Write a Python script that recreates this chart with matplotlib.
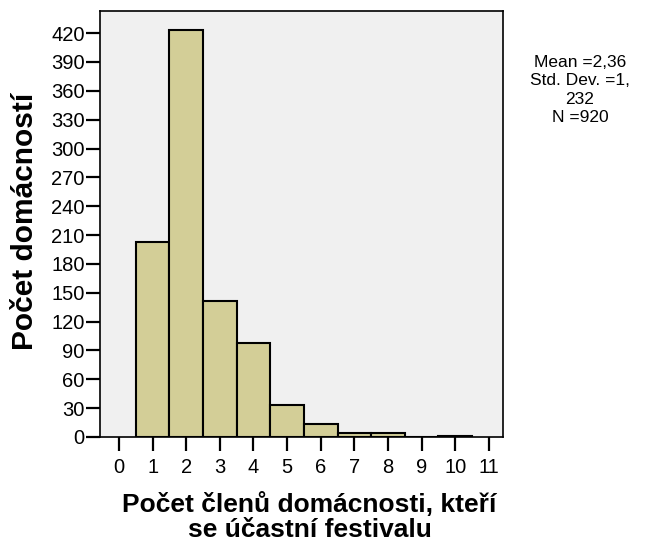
import matplotlib
matplotlib.use("Agg")
import matplotlib.pyplot as plt

categories = [1, 2, 3, 4, 5, 6, 7, 8, 9, 10]
counts = [203, 423, 141, 98, 33, 13, 4, 4, 0, 1]
xticks = list(range(0, 12))
yticks = list(range(0, 421, 30))

plt.rcParams['font.family'] = ['Liberation Sans', 'DejaVu Sans']
fig = plt.figure(figsize=(6.55, 5.46), dpi=100)
ax = fig.add_axes([100/655, 1 - 437/546, 403/655, 426/546])
ax.set_facecolor('#F0F0F0')
ax.bar(categories, counts, width=1.0, color='#D3CE97', edgecolor='black', linewidth=1.5)
ax.set_xlim(-0.565, 11.42)
ax.set_ylim(0, 443)
ax.set_xticks(xticks)
ax.set_yticks(yticks)
ax.tick_params(axis='x', direction='out', length=10, width=1.6, labelsize=14.5, pad=5)
ax.tick_params(axis='y', direction='out', length=10, width=1.6, labelsize=14.5, pad=1)
for s in ax.spines.values():
    s.set_linewidth(1.2)
ax.set_xlabel('Počet členů domácnosti, kteří\nse účastní festivalu', fontsize=19, fontweight='bold', linespacing=1.05)
ax.xaxis.set_label_coords(0.52, -0.13)
ax.set_ylabel('Počet domácností', fontsize=21.5, fontweight='bold')
ax.yaxis.set_label_coords(-0.152, 0.507)
fig.text(580/655, 1 - 90/546, 'Mean =2,36\nStd. Dev. =1,\n232\nN =920', ha='center', va='center', fontsize=12.5, linespacing=1.3)
fig.savefig('out.png', dpi=100)
